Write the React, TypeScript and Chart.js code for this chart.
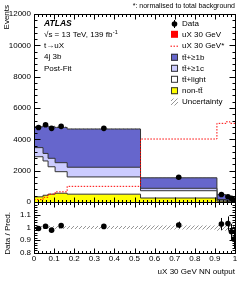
import React, { useEffect, useRef } from "react";
import { Chart, registerables } from "chart.js";

Chart.register(...registerables);

const FONT = "'Liberation Sans', Arial, Helvetica, sans-serif";

// ---------------- data ----------------
const binEdges = [0, 0.045, 0.07, 0.105, 0.165, 0.53, 0.91, 0.955, 0.975, 0.99, 1];
const nonTT = [330, 430, 500, 560, 500, 255, 50, 30, 22, 12];
const ttLight = [2560, 2190, 1750, 1375, 1100, 465, 70, 50, 33, 16];
const tt1c = [580, 480, 540, 575, 620, 155, 40, 25, 20, 10];
const tt1b = [1330, 1780, 2010, 2250, 2440, 670, 308, 217, 165, 104];
const uncertainty = [60, 60, 60, 60, 55, 25, 12, 10, 8, 6];
const signalNorm = [150, 300, 500, 650, 1000, 4020, 5020, 5120, 5020, 5020];
const dataValues = [4760, 4930, 4700, 4830, 4700, 1576, 481, 332, 232, 129];
const dataErrors = [69, 70, 69, 70, 69, 40, 22, 18, 15, 11];
const yTicksMain = [0, 2000, 4000, 6000, 8000, 10000, 12000];
const yTicksRatio = [0.8, 0.9, 1, 1.1];
const xTicks = [0, 0.1, 0.2, 0.3, 0.4, 0.5, 0.6, 0.7, 0.8, 0.9, 1];

// ---------------- helpers ----------------
const stepPts = (vals: number[]) => {
  const pts = vals.map((v, i) => ({ x: binEdges[i], y: v }));
  pts.push({ x: binEdges[binEdges.length - 1], y: vals[vals.length - 1] });
  return pts;
};
const cumulative = (...arrs: number[][]) =>
  arrs[0].map((_, i) => arrs.reduce((s, a) => s + a[i], 0));
const centers = binEdges.slice(0, -1).map((e, i) => (e + binEdges[i + 1]) / 2);

const cum1 = nonTT;
const cum2 = cumulative(nonTT, ttLight);
const cum3 = cumulative(nonTT, ttLight, tt1c);
const total = cumulative(nonTT, ttLight, tt1c, tt1b);

function makeHatch(): CanvasPattern | string {
  const c = document.createElement("canvas");
  c.width = 4;
  c.height = 4;
  const g = c.getContext("2d");
  if (!g) return "rgba(150,150,150,0.5)";
  g.strokeStyle = "rgba(110,110,110,0.9)";
  g.lineWidth = 0.8;
  g.beginPath();
  g.moveTo(0, 4);
  g.lineTo(4, 0);
  g.moveTo(-1, 1);
  g.lineTo(1, -1);
  g.moveTo(3, 5);
  g.lineTo(5, 3);
  g.stroke();
  return g.createPattern(c, "repeat") || "rgba(150,150,150,0.5)";
}

const errorBarPlugin = {
  id: "errorBars",
  afterDatasetsDraw(chart: any) {
    const { ctx } = chart;
    const ys = chart.scales.y;
    chart.data.datasets.forEach((ds: any, di: number) => {
      if (!ds.errors) return;
      const meta = chart.getDatasetMeta(di);
      ctx.save();
      ctx.strokeStyle = "#000";
      ctx.lineWidth = 1;
      meta.data.forEach((pt: any, i: number) => {
        const v = ds.data[i].y;
        const e = ds.errors[i];
        const x = Math.round(pt.x) + 0.5;
        ctx.beginPath();
        ctx.moveTo(x, ys.getPixelForValue(v + e));
        ctx.lineTo(x, ys.getPixelForValue(v - e));
        ctx.stroke();
      });
      ctx.restore();
    });
  },
};

function framePlugin(cfg: {
  xMajor: number[];
  xMinorStep: number;
  yMajor: number[];
  yMinorStep: number;
  xLen: [number, number];
  yLen: [number, number];
}) {
  return {
    id: "frameTicks",
    afterDraw(chart: any) {
      const { ctx, chartArea: a, scales } = chart;
      const xs = scales.x;
      const ys = scales.y;
      const L = Math.floor(a.left) + 0.5;
      const R = Math.floor(a.right) + 0.5;
      const T = Math.floor(a.top) + 0.5;
      const B = Math.floor(a.bottom) + 0.5;
      ctx.save();
      ctx.strokeStyle = "#000";
      ctx.lineWidth = 1;
      ctx.beginPath();
      ctx.rect(L, T, R - L, B - T);
      const xTick = (v: number, len: number) => {
        const px = Math.round(xs.getPixelForValue(v)) + 0.5;
        ctx.moveTo(px, B);
        ctx.lineTo(px, B - len);
        ctx.moveTo(px, T);
        ctx.lineTo(px, T + len);
      };
      const yTick = (v: number, len: number) => {
        const py = Math.round(ys.getPixelForValue(v)) + 0.5;
        ctx.moveTo(L, py);
        ctx.lineTo(L + len, py);
        ctx.moveTo(R, py);
        ctx.lineTo(R - len, py);
      };
      cfg.xMajor.forEach((v) => xTick(v, cfg.xLen[0]));
      for (let v = xs.min; v <= xs.max + 1e-9; v += cfg.xMinorStep) xTick(v, cfg.xLen[1]);
      cfg.yMajor.forEach((v) => yTick(v, cfg.yLen[0]));
      for (let v = ys.min; v <= ys.max + 1e-9; v += cfg.yMinorStep) yTick(v, cfg.yLen[1]);
      ctx.stroke();
      ctx.restore();
    },
  };
}

function legendBox(ctx: CanvasRenderingContext2D, y: number, fill: any, stroke: string | null) {
  ctx.fillStyle = fill;
  ctx.fillRect(171, y - 3.5, 7, 7);
  if (stroke) {
    ctx.strokeStyle = stroke;
    ctx.lineWidth = 1;
    ctx.strokeRect(171.5, y - 3, 6, 6);
  }
}

function textPlugin(hatch: any) {
  return {
    id: "texts",
    afterDraw(chart: any) {
      const ctx: CanvasRenderingContext2D = chart.ctx;
      ctx.save();
      ctx.fillStyle = "#000";
      ctx.textBaseline = "middle";
      // top note
      ctx.font = `7px ${FONT}`;
      ctx.textAlign = "right";
      ctx.fillText("*: normalised to total background", 235, 6);
      // y title
      ctx.font = `8px ${FONT}`;
      ctx.save();
      ctx.translate(7, 5);
      ctx.rotate(-Math.PI / 2);
      ctx.textAlign = "right";
      ctx.fillText("Events", 0, 0);
      ctx.restore();
      ctx.save();
      ctx.translate(8, 212);
      ctx.rotate(-Math.PI / 2);
      ctx.textAlign = "right";
      ctx.fillText("Data / Pred.", 0, 0);
      ctx.restore();
      // ATLAS labels
      ctx.textAlign = "left";
      ctx.font = `italic bold 8.5px ${FONT}`;
      ctx.fillText("ATLAS", 44, 24);
      ctx.font = `8px ${FONT}`;
      const s1 = "\u221As = 13 TeV, 139 fb";
      ctx.fillText(s1, 44, 34.5);
      const w1 = ctx.measureText(s1).width;
      ctx.font = `5.5px ${FONT}`;
      ctx.fillText("-1", 44 + w1 + 0.5, 32);
      ctx.font = `8px ${FONT}`;
      ctx.fillText("t\u2192uX", 44, 45.5);
      ctx.fillText("4j 3b", 44, 57);
      ctx.fillText("Post-Fit", 44, 68.5);
      // legend
      const rows = [24, 34.3, 45.7, 57.3, 68.3, 79.3, 90.7, 102];
      const tx = 182;
      // Data
      ctx.beginPath();
      ctx.arc(174.5, rows[0], 2.8, 0, Math.PI * 2);
      ctx.fill();
      ctx.strokeStyle = "#000";
      ctx.lineWidth = 1;
      ctx.beginPath();
      ctx.moveTo(174.5, rows[0] - 4);
      ctx.lineTo(174.5, rows[0] + 4);
      ctx.stroke();
      legendBox(ctx, rows[1], "#ff0000", null);
      ctx.strokeStyle = "#ff0000";
      ctx.setLineDash([1.5, 1.5]);
      ctx.beginPath();
      ctx.moveTo(170.5, rows[2] + 0.5);
      ctx.lineTo(179, rows[2] + 0.5);
      ctx.stroke();
      ctx.setLineDash([]);
      legendBox(ctx, rows[3], "#6666cc", "#333");
      legendBox(ctx, rows[4], "#ccccff", "#333");
      legendBox(ctx, rows[5], "#ffffff", "#333");
      legendBox(ctx, rows[6], "#ffff00", "#333");
      legendBox(ctx, rows[7], hatch, null);
      ctx.fillStyle = "#000";
      const labels = [
        "Data",
        "uX 30 GeV",
        "uX 30 GeV*",
        "tt\u0304+\u22651b",
        "tt\u0304+\u22651c",
        "tt\u0304+light",
        "non-tt\u0304",
        "Uncertainty",
      ];
      labels.forEach((l, i) => ctx.fillText(l, tx, rows[i]));
      ctx.restore();
    },
  };
}

const tickFont = { size: 8, family: FONT };

export default function App() {
  const mainRef = useRef<HTMLCanvasElement>(null);
  const ratioRef = useRef<HTMLCanvasElement>(null);

  useEffect(() => {
    if (!mainRef.current || !ratioRef.current) return;
    const hatch = makeHatch();
    const stackStyle = (color: string, order: number) => ({
      backgroundColor: color,
      borderColor: "#333",
      borderWidth: 1,
      pointRadius: 0,
      stepped: "before" as const,
      fill: "origin",
      order,
    });

    const main = new Chart(mainRef.current, {
      type: "line",
      data: {
        datasets: [
          {
            data: centers.map((x, i) => ({ x, y: dataValues[i] })),
            errors: dataErrors,
            showLine: false,
            pointRadius: 2.8,
            pointBorderWidth: 0,
            pointBackgroundColor: "#000",
            order: 0,
          } as any,
          {
            data: stepPts(signalNorm),
            borderColor: "#ff0000",
            borderWidth: 1,
            borderDash: [1.5, 1.5],
            pointRadius: 0,
            stepped: "before",
            fill: false,
            order: 1,
          },
          {
            data: stepPts(total.map((t, i) => t - uncertainty[i])),
            borderWidth: 0,
            pointRadius: 0,
            stepped: "before",
            fill: false,
            order: 2,
          },
          {
            data: stepPts(total.map((t, i) => t + uncertainty[i])),
            borderWidth: 0,
            pointRadius: 0,
            stepped: "before",
            fill: "-1",
            backgroundColor: hatch as any,
            order: 2,
          },
          { data: stepPts(cum1), ...stackStyle("#ffff00", 3) } as any,
          { data: stepPts(cum2), ...stackStyle("#ffffff", 4) } as any,
          { data: stepPts(cum3), ...stackStyle("#ccccff", 5) } as any,
          { data: stepPts(total), ...stackStyle("#6666cc", 6) } as any,
        ],
      },
      options: {
        animation: false,
        responsive: false,
        devicePixelRatio: 1,
        layout: { padding: { left: 0, top: 14, right: 14, bottom: 79 } },
        plugins: { legend: { display: false }, tooltip: { enabled: false } },
        scales: {
          x: { type: "linear", display: false, min: 0, max: 1 },
          y: {
            type: "linear",
            min: 0,
            max: 12000,
            afterFit: (s: any) => {
              s.width = 34;
            },
            afterBuildTicks: (s: any) => {
              s.ticks = yTicksMain.map((v) => ({ value: v }));
            },
            ticks: { font: tickFont, color: "#000", padding: 3, callback: (v: any) => String(v) },
            grid: { display: false, drawTicks: false },
            border: { display: false },
          },
        },
      },
      plugins: [
        errorBarPlugin,
        framePlugin({
          xMajor: xTicks,
          xMinorStep: 0.02,
          yMajor: yTicksMain,
          yMinorStep: 400,
          xLen: [5, 2.5],
          yLen: [6, 3],
        }),
        textPlugin(hatch),
      ],
    } as any);

    const ratio = new Chart(ratioRef.current, {
      type: "line",
      data: {
        datasets: [
          {
            data: centers.map((x, i) => ({ x, y: dataValues[i] / total[i] })),
            errors: dataErrors.map((e, i) => e / total[i]),
            showLine: false,
            pointRadius: 2.8,
            pointBorderWidth: 0,
            pointBackgroundColor: "#000",
            order: 0,
          } as any,
          {
            data: stepPts(total.map((t, i) => 1 - uncertainty[i] / t)),
            borderWidth: 0,
            pointRadius: 0,
            stepped: "before",
            fill: false,
            order: 1,
          },
          {
            data: stepPts(total.map((t, i) => 1 + uncertainty[i] / t)),
            borderWidth: 0,
            pointRadius: 0,
            stepped: "before",
            fill: "-1",
            backgroundColor: hatch as any,
            order: 1,
          },
        ],
      },
      options: {
        animation: false,
        responsive: false,
        devicePixelRatio: 1,
        layout: { padding: { left: 0, top: 202, right: 14, bottom: 0 } },
        plugins: { legend: { display: false }, tooltip: { enabled: false } },
        scales: {
          x: {
            type: "linear",
            min: 0,
            max: 1,
            afterFit: (s: any) => {
              s.height = 28;
            },
            afterBuildTicks: (s: any) => {
              s.ticks = xTicks.map((v) => ({ value: v }));
            },
            ticks: {
              font: tickFont,
              color: "#000",
              padding: 1,
              maxRotation: 0,
              autoSkip: false,
              callback: (v: any) => String(v),
            },
            grid: { display: false, drawTicks: false },
            border: { display: false },
            title: {
              display: true,
              text: "uX 30 GeV NN output",
              align: "end",
              color: "#000",
              font: tickFont,
              padding: { top: 0, bottom: 4 },
            },
          },
          y: {
            type: "linear",
            min: 0.8,
            max: 1.2,
            afterFit: (s: any) => {
              s.width = 34;
            },
            afterBuildTicks: (s: any) => {
              s.ticks = yTicksRatio.map((v) => ({ value: v }));
            },
            ticks: { font: tickFont, color: "#000", padding: 3, callback: (v: any) => String(v) },
            grid: { display: false, drawTicks: false },
            border: { display: false },
          },
        },
      },
      plugins: [
        errorBarPlugin,
        framePlugin({
          xMajor: xTicks,
          xMinorStep: 0.02,
          yMajor: yTicksRatio,
          yMinorStep: 0.02,
          xLen: [5, 2.5],
          yLen: [6, 3],
        }),
      ],
    } as any);

    return () => {
      main.destroy();
      ratio.destroy();
    };
  }, []);

  const cs: React.CSSProperties = { position: "absolute", left: 0, top: 0, width: 249, height: 281 };
  return (
    <div style={{ position: "absolute", left: 0, top: 0, width: 249, height: 281, background: "#fff" }}>
      <canvas ref={mainRef} width={249} height={281} style={cs} />
      <canvas ref={ratioRef} width={249} height={281} style={cs} />
    </div>
  );
}
